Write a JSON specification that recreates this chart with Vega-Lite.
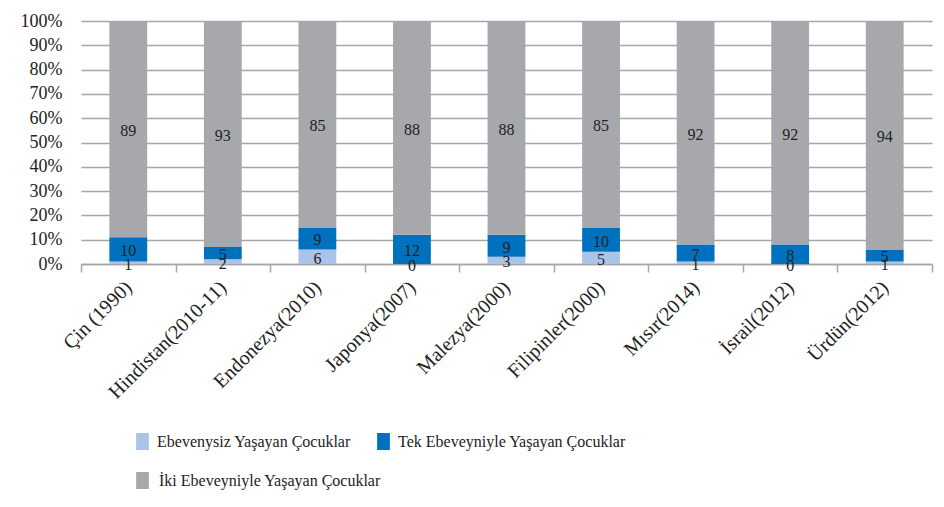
{
  "$schema": "https://vega.github.io/schema/vega-lite/v6.json",
  "width": 851,
  "height": 243,
  "autosize": {"type": "none"},
  "padding": {"left": 81, "top": 21, "right": 12, "bottom": 243},
  "background": "white",
  "config": {
    "view": {"stroke": null},
    "font": "'Liberation Serif', 'DejaVu Serif', serif",
    "axis": {"labelFont": "'Liberation Serif', 'DejaVu Serif', serif"},
    "legend": {"labelFont": "'Liberation Serif', 'DejaVu Serif', serif"},
    "text": {"font": "'Liberation Serif', 'DejaVu Serif', serif"}
  },
  "data": {
    "values": [
      {"ulke": "Çin (1990)", "seri": "Ebevenysiz Yaşayan Çocuklar", "deger": 1},
      {"ulke": "Çin (1990)", "seri": "Tek Ebeveyniyle Yaşayan Çocuklar", "deger": 10},
      {"ulke": "Çin (1990)", "seri": "İki Ebeveyniyle Yaşayan Çocuklar", "deger": 89},
      {"ulke": "Hindistan(2010-11)", "seri": "Ebevenysiz Yaşayan Çocuklar", "deger": 2},
      {"ulke": "Hindistan(2010-11)", "seri": "Tek Ebeveyniyle Yaşayan Çocuklar", "deger": 5},
      {"ulke": "Hindistan(2010-11)", "seri": "İki Ebeveyniyle Yaşayan Çocuklar", "deger": 93},
      {"ulke": "Endonezya(2010)", "seri": "Ebevenysiz Yaşayan Çocuklar", "deger": 6},
      {"ulke": "Endonezya(2010)", "seri": "Tek Ebeveyniyle Yaşayan Çocuklar", "deger": 9},
      {"ulke": "Endonezya(2010)", "seri": "İki Ebeveyniyle Yaşayan Çocuklar", "deger": 85},
      {"ulke": "Japonya(2007)", "seri": "Ebevenysiz Yaşayan Çocuklar", "deger": 0},
      {"ulke": "Japonya(2007)", "seri": "Tek Ebeveyniyle Yaşayan Çocuklar", "deger": 12},
      {"ulke": "Japonya(2007)", "seri": "İki Ebeveyniyle Yaşayan Çocuklar", "deger": 88},
      {"ulke": "Malezya(2000)", "seri": "Ebevenysiz Yaşayan Çocuklar", "deger": 3},
      {"ulke": "Malezya(2000)", "seri": "Tek Ebeveyniyle Yaşayan Çocuklar", "deger": 9},
      {"ulke": "Malezya(2000)", "seri": "İki Ebeveyniyle Yaşayan Çocuklar", "deger": 88},
      {"ulke": "Filipinler(2000)", "seri": "Ebevenysiz Yaşayan Çocuklar", "deger": 5},
      {"ulke": "Filipinler(2000)", "seri": "Tek Ebeveyniyle Yaşayan Çocuklar", "deger": 10},
      {"ulke": "Filipinler(2000)", "seri": "İki Ebeveyniyle Yaşayan Çocuklar", "deger": 85},
      {"ulke": "Mısır(2014)", "seri": "Ebevenysiz Yaşayan Çocuklar", "deger": 1},
      {"ulke": "Mısır(2014)", "seri": "Tek Ebeveyniyle Yaşayan Çocuklar", "deger": 7},
      {"ulke": "Mısır(2014)", "seri": "İki Ebeveyniyle Yaşayan Çocuklar", "deger": 92},
      {"ulke": "İsrail(2012)", "seri": "Ebevenysiz Yaşayan Çocuklar", "deger": 0},
      {"ulke": "İsrail(2012)", "seri": "Tek Ebeveyniyle Yaşayan Çocuklar", "deger": 8},
      {"ulke": "İsrail(2012)", "seri": "İki Ebeveyniyle Yaşayan Çocuklar", "deger": 92},
      {"ulke": "Ürdün(2012)", "seri": "Ebevenysiz Yaşayan Çocuklar", "deger": 1},
      {"ulke": "Ürdün(2012)", "seri": "Tek Ebeveyniyle Yaşayan Çocuklar", "deger": 5},
      {"ulke": "Ürdün(2012)", "seri": "İki Ebeveyniyle Yaşayan Çocuklar", "deger": 94}
    ]
  },
  "encoding": {
    "x": {
      "field": "ulke",
      "type": "nominal",
      "sort": null,
      "scale": {"paddingInner": 0, "paddingOuter": 0},
      "axis": {
        "title": null,
        "labelAngle": -45,
        "labelAlign": "right",
        "labelBaseline": "middle",
        "labelFontSize": 20,
        "labelColor": "#222222",
        "labelPadding": 12,
        "tickBand": "extent",
        "tickSize": 8,
        "tickColor": "#a6a6a6",
        "tickWidth": 1.5,
        "domainColor": "#a6a6a6",
        "domainWidth": 1.5,
        "grid": false
      }
    },
    "y": {
      "field": "deger",
      "type": "quantitative",
      "stack": "normalize",
      "scale": {"domain": [0, 1]},
      "axis": {
        "title": null,
        "format": ".0%",
        "values": [0, 0.1, 0.2, 0.3, 0.4, 0.5, 0.6, 0.7, 0.8, 0.9, 1],
        "labelOverlap": false,
        "domain": false,
        "ticks": false,
        "labelFontSize": 18,
        "labelColor": "#222222",
        "labelPadding": 19,
        "gridColor": "#a6a6a6",
        "gridWidth": 1.5
      }
    },
    "order": {"field": "seri", "sort": "ascending"}
  },
  "resolve": {"legend": {"color": "independent"}},
  "layer": [
    {
      "mark": {"type": "bar", "width": {"band": 0.4}, "opacity": 0},
      "encoding": {
        "color": {
          "field": "seri",
          "type": "nominal",
          "scale": {
            "domain": ["Ebevenysiz Yaşayan Çocuklar", "Tek Ebeveyniyle Yaşayan Çocuklar", "İki Ebeveyniyle Yaşayan Çocuklar"],
            "range": ["#a9c4e8", "#0071bf", "#a7a8ac"]
          },
          "legend": {
            "title": null,
            "orient": "none",
            "legendX": 53,
            "legendY": 451,
            "direction": "horizontal",
            "values": ["İki Ebeveyniyle Yaşayan Çocuklar"],
            "symbolType": "M-0.75,-1H0.75V1H-0.75Z",
            "symbolSize": 289,
            "symbolStrokeWidth": 0,
            "symbolOpacity": 1,
            "labelFontSize": 16,
            "labelColor": "#222222",
            "labelOffset": 8,
            "labelLimit": 400
          }
        }
      }
    },
    {
      "mark": {"type": "bar", "width": {"band": 0.4}},
      "encoding": {
        "color": {
          "field": "seri",
          "type": "nominal",
          "scale": {
            "domain": ["Ebevenysiz Yaşayan Çocuklar", "Tek Ebeveyniyle Yaşayan Çocuklar", "İki Ebeveyniyle Yaşayan Çocuklar"],
            "range": ["#a9c4e8", "#0071bf", "#a7a8ac"]
          },
          "legend": {
            "title": null,
            "orient": "none",
            "legendX": 53,
            "legendY": 412,
            "direction": "horizontal",
            "values": ["Ebevenysiz Yaşayan Çocuklar", "Tek Ebeveyniyle Yaşayan Çocuklar"],
            "columnPadding": 24,
            "symbolType": "M-0.75,-1H0.75V1H-0.75Z",
            "symbolSize": 289,
            "symbolStrokeWidth": 0,
            "labelFontSize": 16,
            "labelColor": "#222222",
            "labelOffset": 6,
            "labelLimit": 400
          }
        }
      }
    },
    {
      "mark": {"type": "text", "fontSize": 16, "color": "#222222", "baseline": "middle", "dy": 2},
      "encoding": {
        "y": {
          "field": "deger",
          "type": "quantitative",
          "stack": "normalize",
          "bandPosition": 0.5,
          "axis": {
            "title": null,
            "format": ".0%",
            "values": [0, 0.1, 0.2, 0.3, 0.4, 0.5, 0.6, 0.7, 0.8, 0.9, 1],
            "labelOverlap": false,
            "domain": false,
            "ticks": false,
            "labelFontSize": 18,
            "labelColor": "#222222",
            "labelPadding": 19,
            "gridColor": "#a6a6a6",
            "gridWidth": 1.5
          }
        },
        "detail": {"field": "seri"},
        "text": {"field": "deger", "type": "quantitative"}
      }
    }
  ]
}
